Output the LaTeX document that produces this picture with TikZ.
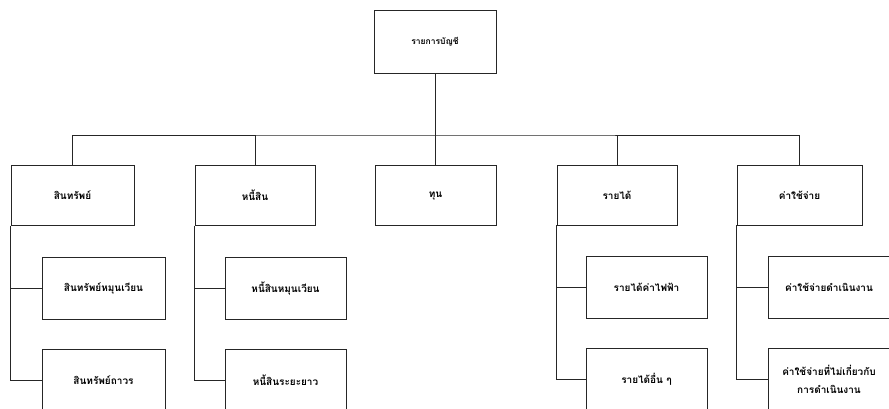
\documentclass[tikz,border=0pt]{standalone}
\usepackage{fontspec}
\newfontfamily\thaifont[Script=Thai]{Loma}
\begin{document}
\begin{tikzpicture}[x=1pt,y=1pt,
  box/.style={draw=black!85, line width=0.9pt, inner sep=1pt, align=center,
    font=\thaifont\bfseries\fontsize{10}{18}\selectfont},
  link/.style={draw=black!85, line width=0.9pt}]
\useasboundingbox (0,0) rectangle (889,-408);
\clip (0,0) rectangle (889,-408);
% top
\node[box, minimum width=122pt, minimum height=63pt, font=\thaifont\bfseries\fontsize{8.5}{13}\selectfont] (top) at (435,-41.5) {รายการบัญชี};
% level 1
\tikzset{lone/.style={box, minimum height=60pt}}
\node[lone, minimum width=123pt] (A) at (72.5,-195.5) {สินทรัพย์};
\node[lone, minimum width=120pt] (B) at (255,-195.5) {หนี้สิน};
\node[lone, minimum width=121pt] (C) at (435.5,-195.5) {ทุน};
\node[lone, minimum width=120pt] (D) at (617,-195) {รายได้};
\node[lone, minimum width=125pt] (E) at (799.5,-195) {ค่าใช้จ่าย};
% level 2
\tikzset{ltwo/.style={box, minimum height=62pt}}
\node[ltwo, minimum width=123pt] (A1) at (103.5,-288) {สินทรัพย์หมุนเวียน};
\node[ltwo, minimum width=123pt] (A2) at (103.5,-380) {สินทรัพย์ถาวร};
\node[ltwo, minimum width=121pt] (B1) at (285.5,-288) {หนี้สินหมุนเวียน};
\node[ltwo, minimum width=121pt] (B2) at (285.5,-380) {หนี้สินระยะยาว};
\node[ltwo, minimum width=121pt] (D1) at (646.5,-287) {รายได้ค่าไฟฟ้า};
\node[ltwo, minimum width=121pt] (D2) at (646.5,-379) {รายได้อื่น ๆ};
\node[ltwo, minimum width=122pt] (E1) at (829,-287) {ค่าใช้จ่ายดำเนินงาน};
\node[ltwo, minimum width=122pt] (E2) at (829,-379) {ค่าใช้จ่ายที่ไม่เกี่ยวกับ\\การดำเนินงาน};
% connectors
\coordinate (bus) at (435,-135);
\draw[link] (top.south) -- (bus);
\draw[link] (A.north) |- (bus) -| (E.north);
\draw[link] (B.north) -- (B.north |- bus);
\draw[link] (C.north) -- (C.north |- bus);
\draw[link] (D.north) -- (D.north |- bus);
\foreach \p in {A,B,D,E}{
  \draw[link] (\p.south west) |- (\p1.west);
  \draw[link] (\p.south west) |- (\p2.west);
}
\end{tikzpicture}
\end{document}
